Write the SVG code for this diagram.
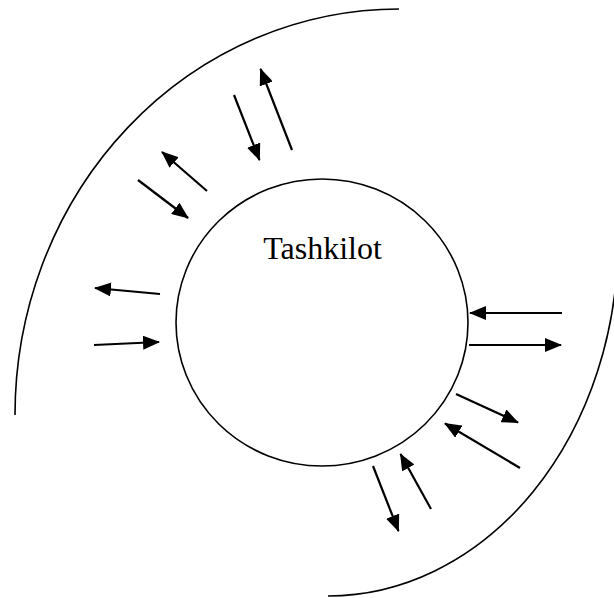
<svg xmlns="http://www.w3.org/2000/svg" width="614" height="598" viewBox="0 0 614 598">
  <style>
    .arc { fill: none; stroke: #000; stroke-width: 1.6; }
    .node { fill: #fff; stroke: #000; stroke-width: 1.6; }
    .label { font-family: "Liberation Serif", "Times New Roman", serif; font-size: 32px; fill: #000; }
    .conn { stroke: #000; stroke-width: 2.2; fill: none; marker-end: url(#head); }
  </style>
  <defs>
    <marker id="head" markerUnits="userSpaceOnUse" viewBox="0 0 17 14" markerWidth="17" markerHeight="14" refX="16" refY="7" orient="auto">
      <path d="M0,0 L17,7 L0,14 z" fill="#000"/>
    </marker>
  </defs>
  <rect width="614" height="598" fill="#fff"/>
  <g id="environment">
    <path class="arc" d="M15,415 A384,406 0 0 1 399,9"/>
    <path class="arc" d="M618,240 A290,356 0 0 1 328,596"/>
  </g>
  <g id="tashkilot">
    <ellipse class="node" cx="322" cy="322.5" rx="146" ry="143.5"/>
    <text class="label" x="322.5" y="259" text-anchor="middle">Tashkilot</text>
  </g>
  <g id="connectors">
    <line class="conn" x1="292" y1="150" x2="260.5" y2="69"/>
    <line class="conn" x1="234" y1="95" x2="259.5" y2="160"/>
    <line class="conn" x1="207" y1="191" x2="162" y2="152"/>
    <line class="conn" x1="138" y1="180" x2="188" y2="218"/>
    <line class="conn" x1="160" y1="294" x2="95" y2="288"/>
    <line class="conn" x1="94" y1="345" x2="159" y2="342"/>
    <line class="conn" x1="562" y1="313" x2="470" y2="313"/>
    <line class="conn" x1="469" y1="345" x2="561" y2="345"/>
    <line class="conn" x1="456" y1="394" x2="518" y2="422.5"/>
    <line class="conn" x1="520" y1="468" x2="445" y2="423.5"/>
    <line class="conn" x1="431" y1="509" x2="400.5" y2="454"/>
    <line class="conn" x1="373" y1="466" x2="398.5" y2="531"/>
  </g>
</svg>
